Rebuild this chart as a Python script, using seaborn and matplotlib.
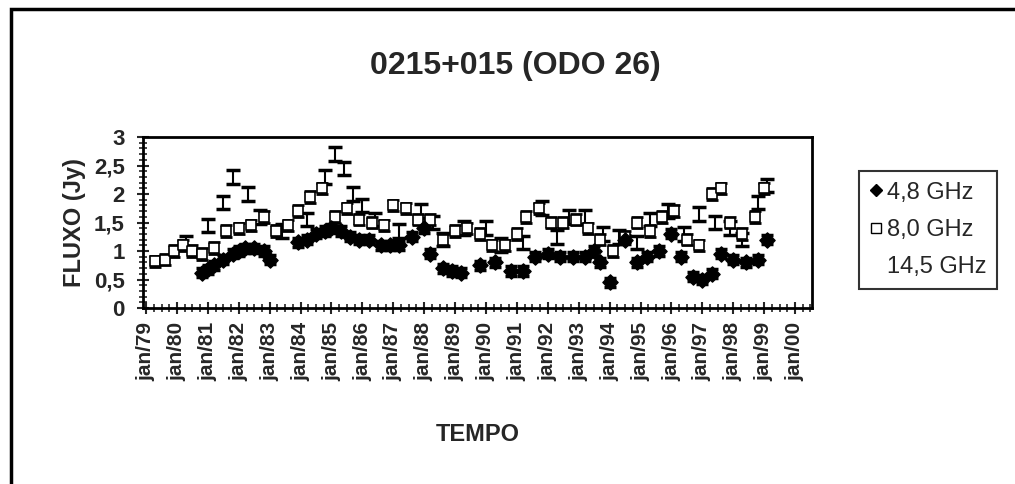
import matplotlib
matplotlib.use("Agg")
import matplotlib.pyplot as plt
import seaborn as sns
import pandas as pd
from matplotlib.lines import Line2D
from matplotlib.patches import Rectangle
from matplotlib.ticker import MultipleLocator

# decimal year / flux (Jy)
t48 = [1980.8, 1981.0, 1981.2, 1981.5, 1981.8, 1982.0, 1982.2, 1982.5, 1982.8, 1983.0,
       1983.9, 1984.2, 1984.5, 1984.8, 1985.0, 1985.3, 1985.6, 1985.9, 1986.2, 1986.6,
       1986.9, 1987.2, 1987.6, 1988.0, 1988.2, 1988.6, 1988.9, 1989.2, 1989.8, 1990.3,
       1990.8, 1991.2, 1991.6, 1992.0, 1992.4, 1992.8, 1993.2, 1993.5, 1993.7, 1994.0,
       1994.5, 1994.9, 1995.2, 1995.6, 1996.0, 1996.3, 1996.7, 1997.0, 1997.3, 1997.6,
       1998.0, 1998.4, 1998.8, 1999.1]
f48 = [0.62, 0.68, 0.75, 0.85, 0.95, 1.0, 1.05, 1.05, 1.0, 0.85,
       1.15, 1.2, 1.3, 1.35, 1.4, 1.35, 1.25, 1.2, 1.2, 1.1,
       1.1, 1.1, 1.25, 1.4, 0.95, 0.7, 0.65, 0.62, 0.75, 0.8,
       0.65, 0.65, 0.9, 0.95, 0.9, 0.9, 0.9, 1.0, 0.8, 0.45,
       1.2, 0.8, 0.9, 1.0, 1.3, 0.9, 0.55, 0.5, 0.6, 0.95,
       0.85, 0.8, 0.85, 1.2]

t80 = [1979.3, 1979.6, 1979.9, 1980.2, 1980.5, 1980.8, 1981.2, 1981.6, 1982.0, 1982.4,
       1982.8, 1983.2, 1983.6, 1983.9, 1984.3, 1984.7, 1985.1, 1985.5, 1985.9, 1986.3,
       1986.7, 1987.0, 1987.4, 1987.8, 1988.2, 1988.6, 1989.0, 1989.4, 1989.8, 1990.2,
       1990.6, 1991.0, 1991.3, 1991.7, 1992.1, 1992.5, 1992.9, 1993.3, 1993.7, 1994.1,
       1994.5, 1994.9, 1995.3, 1995.7, 1996.1, 1996.5, 1996.9, 1997.3, 1997.6, 1997.9,
       1998.3, 1998.7, 1999.0]
f80 = [0.82, 0.85, 1.0, 1.1, 1.0, 0.95, 1.05, 1.35, 1.4, 1.45,
       1.6, 1.35, 1.45, 1.7, 1.95, 2.1, 1.6, 1.75, 1.55, 1.5,
       1.45, 1.8, 1.75, 1.55, 1.55, 1.2, 1.35, 1.4, 1.3, 1.1,
       1.1, 1.3, 1.6, 1.75, 1.5, 1.5, 1.55, 1.4, 1.2, 1.0,
       1.25, 1.5, 1.35, 1.6, 1.7, 1.2, 1.1, 2.0, 2.1, 1.5,
       1.3, 1.6, 2.1]

t145 = [1980.3, 1981.0, 1981.5, 1981.8, 1982.3, 1982.7, 1983.4, 1984.2, 1984.8, 1985.1,
        1985.4, 1985.7, 1986.0, 1986.4, 1987.2, 1987.9, 1988.3, 1988.6, 1989.3, 1990.0,
        1990.5, 1991.2, 1991.8, 1992.3, 1992.7, 1993.2, 1993.8, 1994.3, 1994.9, 1995.3,
        1995.9, 1996.4, 1996.9, 1997.4, 1997.9, 1998.3, 1998.8, 1999.1]
f145 = [1.15, 1.45, 1.85, 2.3, 2.0, 1.6, 1.35, 1.55, 2.3, 2.7,
        2.45, 2.0, 1.8, 1.55, 1.35, 1.7, 1.5, 1.2, 1.4, 1.4,
        1.1, 1.15, 1.75, 1.25, 1.6, 1.6, 1.3, 1.25, 1.15, 1.55,
        1.7, 1.3, 1.65, 1.5, 1.4, 1.2, 1.85, 2.15]

err48, err80, err145 = 0.08, 0.1, 0.12

years = list(range(1979, 2001))
year_labels = ["jan/%02d" % (y % 100) for y in years]
series_names = ["4,8 GHz", "8,0 GHz", "14,5 GHz"]

sns.set_style("white")
plt.rcParams["font.family"] = ["Liberation Sans", "DejaVu Sans"]

fig = plt.figure(figsize=(10.15, 4.84), dpi=100)
ax = fig.add_axes([143 / 1015, 1 - 308 / 484, 669 / 1015, 171 / 484])

df48 = pd.DataFrame({"t": t48, "f": f48})
df80 = pd.DataFrame({"t": t80, "f": f80})

ax.errorbar(t145, f145, yerr=err145, fmt="none", ecolor="black", elinewidth=1.5,
            capsize=5, capthick=2.5, zorder=2)
ax.errorbar(t80, f80, yerr=err80, fmt="none", ecolor="black", elinewidth=1.2,
            capsize=4, capthick=2, zorder=2)
ax.errorbar(t48, f48, yerr=err48, fmt="none", ecolor="black", elinewidth=1.5,
            capsize=4, capthick=2.5, zorder=2)
sns.scatterplot(data=df80, x="t", y="f", marker="s", s=60, color="white",
                edgecolor="black", linewidth=1.2, ax=ax, zorder=3)
sns.scatterplot(data=df48, x="t", y="f", marker="D", s=60, color="black",
                edgecolor="black", linewidth=1, ax=ax, zorder=4)

ax.set_xlim(1978.9, 2000.55)
ax.set_ylim(0, 3)
ax.set_xticks(years)
ax.set_xticklabels(year_labels, rotation=90, fontsize=15, fontweight="bold")
ax.xaxis.set_minor_locator(MultipleLocator(0.25))
ax.set_yticks([0, 0.5, 1, 1.5, 2, 2.5, 3])
ax.set_yticklabels(["0", "0,5", "1", "1,5", "2", "2,5", "3"], fontsize=16,
                   fontweight="bold")
ax.yaxis.set_minor_locator(MultipleLocator(0.1))
ax.tick_params(axis="both", which="major", direction="inout", length=8, width=1.5,
               bottom=True, left=True)
ax.tick_params(axis="y", which="major", pad=9)
ax.tick_params(axis="x", which="major", pad=6)
ax.tick_params(axis="both", which="minor", direction="inout", length=6, width=1.2,
               bottom=True, left=True)
for sp in ax.spines.values():
    sp.set_color("black")
    sp.set_linewidth(2)

ax.set_xlabel("TEMPO", fontsize=17, fontweight="bold", labelpad=30)
ax.set_ylabel("FLUXO (Jy)", fontsize=17, fontweight="bold", labelpad=6)
fig.text(515 / 1015, 1 - 66 / 484, "0215+015 (ODO 26)", fontsize=23,
         fontweight="bold", ha="center", va="center")

handles = [
    Line2D([], [], marker="D", color="black", linestyle="none", markersize=6),
    Line2D([], [], marker="s", markerfacecolor="white", markeredgecolor="black",
           linestyle="none", markersize=7),
    Line2D([], [], marker="", linestyle="none"),
]
leg = fig.legend(handles, series_names, loc="upper left",
                 bbox_to_anchor=(859 / 1015, 1 - 171 / 484), fontsize=17,
                 frameon=True, fancybox=False, edgecolor="black",
                 handlelength=0.5, handletextpad=0.25, borderpad=0.45,
                 labelspacing=0.65, borderaxespad=0)
leg.get_frame().set_linewidth(1.5)

# outer chart frame (only top and left edges are visible in the scan)
fig.add_artist(Rectangle((11 / 1015, -0.1), 1.1, 1.1 - 9 / 484,
                         transform=fig.transFigure, fill=False,
                         edgecolor="black", linewidth=2.5))

fig.savefig("out.png", dpi=100)
